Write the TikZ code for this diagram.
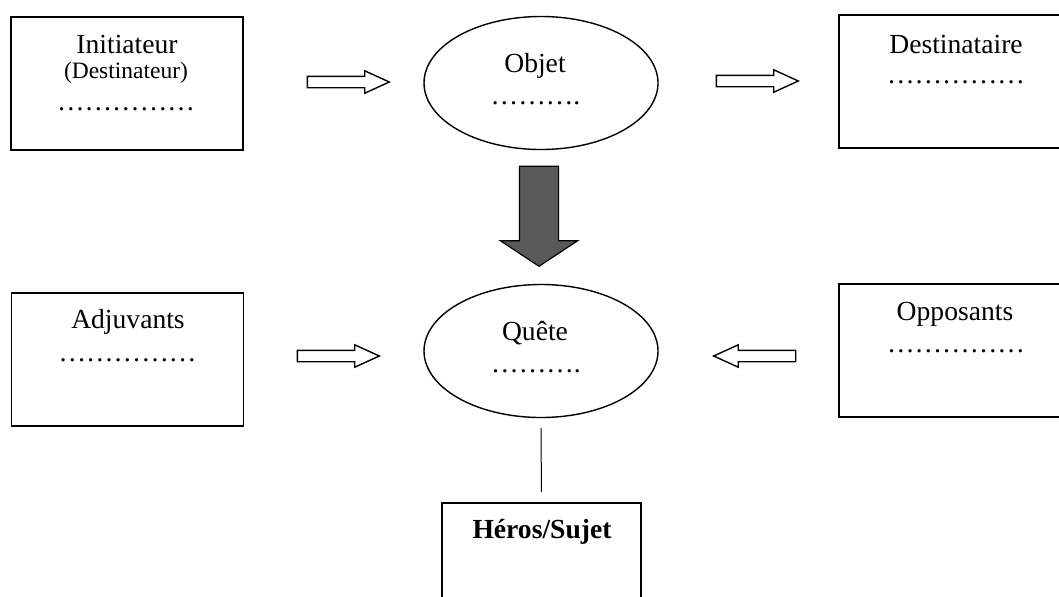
\documentclass[tikz,border=0pt]{standalone}
\usepackage{fontspec}
\setmainfont{Liberation Serif}
\usetikzlibrary{shapes.geometric,shapes.arrows}

\definecolor{arrowgray}{HTML}{595959}

\begin{document}
\begin{tikzpicture}[x=0.5pt, y=0.5pt, yscale=-1,
  box/.style={draw, line width=0.9pt, minimum width=116pt, minimum height=66.5pt, inner sep=0pt},
  oval/.style={draw, ellipse, line width=0.7pt, minimum width=117pt, minimum height=66.5pt, inner sep=0pt},
  txt/.style={anchor=base, inner sep=0pt, font=\fontsize{13.8}{16}\selectfont},
  hollow/.style={draw, single arrow, anchor=tip, line width=0.7pt, minimum height=41pt, inner xsep=0pt, inner ysep=2.5pt,
    single arrow head extend=2.75pt, single arrow tip angle=49},
  heavy/.style={draw, fill=arrowgray, single arrow, anchor=tip, line width=0.6pt, minimum height=50pt, inner xsep=0pt, inner ysep=9.5pt,
    single arrow head extend=9.5pt, single arrow tip angle=113}]
\useasboundingbox (0,0) rectangle (1059,596);
\clip (0,0) rectangle (1059,596);

% boxes and ovals
\node[box] (init) at (127,83.5) {};
\node[box, minimum width=117pt] (dest) at (956,81.5) {};
\node[box] (adj) at (127.5,359.5) {};
\node[box, minimum width=117pt] (opp) at (956,350.5) {};
\node[box, minimum width=99.5pt, minimum height=80pt] (heros) at (541.5,583) {};
\node[oval] (objet) at (541,83) {};
\node[oval] (quete) at (541,351) {};

% texts
\node[txt] (t-init) at (127,53) {Initiateur};
\node[txt, font=\fontsize{11.75}{14}\selectfont] (t-destin) at (126,78) {(Destinateur)};
\node[txt] (d-init) at (126,110) {……………};
\node[txt] (t-objet) at (535,72) {Objet};
\node[txt] (d-objet) at (535.5,104) {……….};
\node[txt] (t-dest) at (956,53) {Destinataire};
\node[txt] (d-dest) at (956,83) {……………};
\node[txt] (t-adj) at (128,328) {Adjuvants};
\node[txt] (d-adj) at (127.5,361) {……………};
\node[txt] (t-quete) at (535,340) {Quête};
\node[txt] (d-quete) at (536,372) {……….};
\node[txt] (t-opp) at (955,320) {Opposants};
\node[txt] (d-opp) at (956,352) {……………};
\node[txt, font=\fontsize{13.8}{16}\selectfont\bfseries] (t-heros) at (542,538) {Héros/Sujet};

% arrows, placed by their tips
\node[hollow] (a-init) at (391,82) {};
\node[hollow] (a-dest) at (800,81) {};
\node[hollow] (a-adj) at (381,356) {};
\node[hollow, rotate=180] (a-opp) at (712,356) {};
\node[heavy, rotate=-90] (a-quete) at (539,267) {};

\draw[line width=0.5pt, shorten <=5pt, shorten >=5pt] (quete) -- (heros);
\end{tikzpicture}
\end{document}
